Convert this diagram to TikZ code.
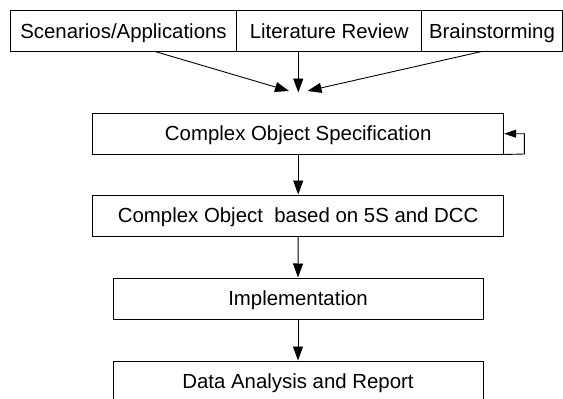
\documentclass[tikz,border=0pt]{standalone}
\usepackage{fontspec}
\setmainfont{Liberation Sans}
\usetikzlibrary{arrows.meta}
\begin{document}
\begin{tikzpicture}[x=1pt,y=-1pt,
  boxstyle/.style={draw, line width=1pt, inner sep=0pt, text height=14.6pt, text depth=0pt, font=\fontsize{20.4}{24}\selectfont},
  conn/.style={draw, line width=0.9pt, -{Triangle[length=14pt,width=10pt]}},
  loopconn/.style={draw, line width=0.9pt, -{Triangle[length=12pt,width=8pt]}}]
\useasboundingbox (0,0) rectangle (563,399);
\begin{scope}
\clip (0,0) rectangle (563,399);
% top row
\node[boxstyle, minimum width=226.4pt, minimum height=40.3pt] (sc) at (123.5,30.85) {Scenarios/Applications};
\node[boxstyle, minimum width=185pt, minimum height=40.3pt] (lr) at (329.2,30.85) {Literature Review};
\node[boxstyle, minimum width=140.6pt, minimum height=40.3pt] (bs) at (492,30.85) {Brainstorming};
% main boxes
\node[boxstyle, minimum width=411pt, minimum height=41pt] (cos) at (298.2,133.5) {Complex Object Specification};
\node[boxstyle, minimum width=411pt, minimum height=41pt] (co) at (298.2,215.5) {Complex Object\ \ based on 5S and DCC};
\node[boxstyle, minimum width=370pt, minimum height=41pt] (impl) at (298,298.5) {Implementation};
\node[boxstyle, minimum width=370pt, minimum height=41pt] (dar) at (298,381.5) {Data Analysis and Report};
\end{scope}
% converging arrows
\coordinate (tl) at (289,91);
\coordinate (tm) at (298.3,92.5);
\coordinate (tr) at (307.5,91);
\draw[conn] (sc.south -| 155,0) -- (tl);
\draw[conn] (lr.south -| tm) -- (tm);
\draw[conn] (bs.south -| 481.7,0) -- (tr);
% chain
\draw[conn] (cos.south) -- (co.north);
\draw[conn] (co.south) -- (impl.north);
\draw[conn] (impl.south) -- (dar.north);
% self loop
\coordinate (lp1) at (524.3,154);
\coordinate (lp2) at (524.3,133.7);
\draw[loopconn] (cos.south east) -- (lp1) -- (lp2) -- (cos.east |- lp2);
\end{tikzpicture}
\end{document}
